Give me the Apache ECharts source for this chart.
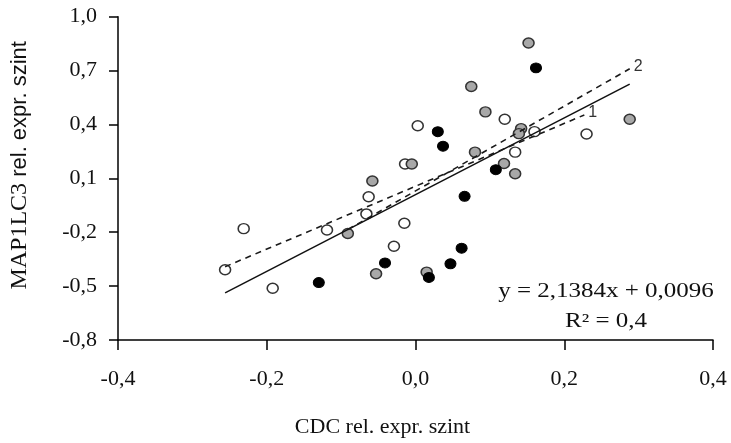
<!DOCTYPE html>
<html>
<head>
<meta charset="utf-8">
<script src="https://cdn.jsdelivr.net/npm/echarts@6/dist/echarts.min.js"></script>
<style>html,body{margin:0;padding:0;background:#fff;}#c{width:731px;height:443px;}</style>
</head>
<body>
<div id="c"></div>
<script>
// Data
const openPts = [[-0.256,-0.409],[-0.231,-0.180],[-0.192,-0.512],[-0.119,-0.188],[-0.066,-0.098],[-0.063,-0.002],[-0.029,-0.278],[-0.015,-0.150],[-0.014,0.180],[0.003,0.393],[0.120,0.429],[0.160,0.360],[0.134,0.246],[0.230,0.347]];
const grayPts = [[-0.091,-0.207],[-0.053,-0.431],[-0.058,0.085],[-0.005,0.180],[0.015,-0.422],[0.152,0.854],[0.075,0.611],[0.094,0.470],[0.142,0.377],[0.139,0.349],[0.080,0.246],[0.119,0.183],[0.134,0.126],[0.288,0.429]];
const blackPts = [[-0.130,-0.480],[-0.041,-0.371],[0.018,-0.452],[0.047,-0.376],[0.062,-0.289],[0.066,0.000],[0.108,0.148],[0.030,0.360],[0.037,0.279],[0.162,0.715]];
const trendAll = [[-0.256,-0.538],[0.288,0.625]];
const trend1 = [[-0.256,-0.392],[0.227,0.453]];
const trend2 = [[-0.091,-0.185],[0.288,0.710]];
const xTicks = [-0.4,-0.2,0.0,0.2,0.4];
const yTicks = [-0.8,-0.5,-0.2,0.1,0.4,0.7,1.0];
const eqText = 'y = 2,1384x + 0,0096';
const r2Text = 'R\u00B2 = 0,4';

const fmt = v => (Math.abs(v) < 1e-9 ? 0 : v).toFixed(1).replace('.', ',');
const serif = 'Liberation Serif';
const chart = echarts.init(document.getElementById('c'), null, {renderer:'canvas'});
const markerBase = {type:'scatter', symbol:'circle', symbolSize:[11,10], z:2};
chart.setOption({
  animation:false,
  backgroundColor:'#fff',
  grid:{left:111.5, right:18, top:16.7, bottom:96.3, containLabel:false},
  xAxis:{
    type:'value', min:-0.4, max:0.4,
    name:'CDC rel. expr. szint', nameLocation:'middle', nameGap:76,
    nameTextStyle:{fontFamily:serif, fontSize:22, color:'#111', padding:[0,66,0,0]},
    axisLine:{show:true, onZero:false, lineStyle:{color:'#000', width:1.5}},
    axisTick:{show:true, inside:false, length:10, customValues:xTicks, lineStyle:{color:'#000', width:1.5}},
    axisLabel:{customValues:xTicks, formatter:fmt, margin:28, fontFamily:serif, fontSize:22, color:'#111'},
    splitLine:{show:false}
  },
  yAxis:{
    type:'value', min:-0.8, max:1.0,
    name:'{a|MAP1LC3}{b| rel. expr. szint}', nameLocation:'middle', nameGap:86, nameRotate:90,
    nameTextStyle:{padding:[0,0,0,26], rich:{a:{fontFamily:serif, fontSize:24, color:'#111'}, b:{fontFamily:'Liberation Sans', fontSize:22, color:'#111'}}},
    axisLine:{show:true, onZero:false, lineStyle:{color:'#000', width:1.5}},
    axisTick:{show:true, inside:false, length:9, customValues:yTicks, lineStyle:{color:'#000', width:1.5}},
    axisLabel:{customValues:yTicks, formatter:fmt, margin:21, fontFamily:serif, fontSize:22, color:'#111'},
    splitLine:{show:false}
  },
  series:[
    Object.assign({}, markerBase, {name:'open', data:openPts, itemStyle:{color:'#fff', borderColor:'#333', borderWidth:1.5, opacity:1}}),
    Object.assign({}, markerBase, {name:'gray', data:grayPts, itemStyle:{color:'#a8a8a8', borderColor:'#333', borderWidth:1.5, opacity:1}}),
    Object.assign({}, markerBase, {name:'black', data:blackPts, itemStyle:{color:'#000', borderColor:'#000', borderWidth:1, opacity:1}}),
    {type:'line', name:'all', data:trendAll, symbol:'none', z:3, lineStyle:{color:'#111', width:1.5}},
    {type:'line', name:'1', data:trend1, symbol:'none', z:3, lineStyle:{color:'#1a1a1a', width:1.6, type:[6,5]},
      endLabel:{show:true, formatter:'1', fontFamily:'Liberation Sans', fontSize:16, color:'#333', distance:4, offset:[0,-2]}},
    {type:'line', name:'2', data:trend2, symbol:'none', z:3, lineStyle:{color:'#1a1a1a', width:1.6, type:[6,5]},
      endLabel:{show:true, formatter:'2', fontFamily:'Liberation Sans', fontSize:16, color:'#333', distance:4, offset:[0,-2]}}
  ],
  graphic:[
    {type:'text', x:606, y:292, scaleX:1.25, style:{text:eqText, fontFamily:serif, fontSize:20, fill:'#111', textAlign:'center', textVerticalAlign:'middle'}},
    {type:'text', x:606, y:322, scaleX:1.25, style:{text:r2Text, fontFamily:serif, fontSize:20, fill:'#111', textAlign:'center', textVerticalAlign:'middle'}}
  ]
});
</script>
</body>
</html>
